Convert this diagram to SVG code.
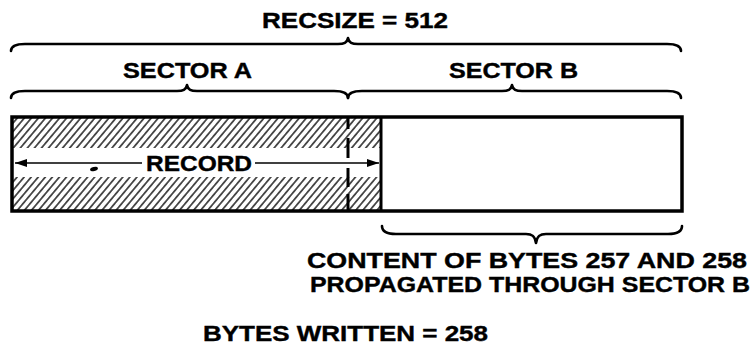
<svg xmlns="http://www.w3.org/2000/svg" width="755" height="347" viewBox="0 0 755 347">
<style>
  text { font-family: "Liberation Sans", Arial, Helvetica, sans-serif; font-weight: bold; font-size: 22px; fill: #000; stroke: #000; stroke-width: 0.4; }
  .brace { fill: none; stroke: #000; stroke-width: 2.6; stroke-linecap: round; stroke-linejoin: round; }
  .border { fill: none; stroke: #000; stroke-width: 3.5; }
  .arrow { stroke: #000; stroke-width: 1.6; fill: none; }
</style>
<defs>
  <pattern id="hatch" patternUnits="userSpaceOnUse" width="5.4" height="10" patternTransform="rotate(40)">
    <line x1="2.7" y1="-1" x2="2.7" y2="11" stroke="#000" stroke-width="1.3"/>
  </pattern>
  <marker id="ah" viewBox="0 0 12 8" refX="12" refY="4" markerWidth="12" markerHeight="8" markerUnits="userSpaceOnUse" orient="auto">
    <path d="M0,0 L12,4 L0,8 Z" fill="#000"/>
  </marker>
</defs>
<rect width="755" height="347" fill="#fff"/>

<g id="label-recsize">
  <text x="262" y="28" textLength="186" lengthAdjust="spacingAndGlyphs">RECSIZE = 512</text>
</g>

<g id="connectors">
  <path id="brace-recsize" class="brace" d="M11 51 C11 46 15 44 25 44 L338 44 C344 44 347 43 348 38 C349 43 352 44 358 44 L667 44 C677 44 681 46 681 51"/>
  <path id="brace-sector-a" class="brace" d="M11 98 C11 93 15 91 25 91 L177 91 C183 91 186 90 187 85 C188 90 191 91 197 91 L334 91 C344 91 348 93 348 98"/>
  <path id="brace-sector-b" class="brace" d="M348 98 C348 93 352 91 362 91 L502 91 C508 91 511 90 512 85 C513 90 516 91 522 91 L667 91 C677 91 681 93 681 98"/>
  <path id="brace-bytes" class="brace" d="M382 226 C382 231 386 234 396 234 L526 234 C532 234 535 236 536 243 C537 236 540 234 546 234 L668 234 C678 234 682 231 682 226"/>
</g>

<g id="label-sector-a">
  <text x="123" y="78" textLength="129" lengthAdjust="spacingAndGlyphs">SECTOR A</text>
</g>
<g id="label-sector-b">
  <text x="449" y="78" textLength="129" lengthAdjust="spacingAndGlyphs">SECTOR B</text>
</g>

<g id="record-block">
  <rect x="12" y="117" width="369" height="31" fill="url(#hatch)"/>
  <rect x="12" y="177" width="369" height="34" fill="url(#hatch)"/>
  <rect class="border" x="12" y="117" width="670" height="94"/>
  <line x1="381" y1="117" x2="381" y2="211" stroke="#000" stroke-width="3"/>
  <path d="M348 117 L348 211" stroke="#000" stroke-width="3" stroke-dasharray="12 9 20 10 19 7 18" fill="none"/>
  <line class="arrow" x1="142" y1="163" x2="15" y2="163" marker-end="url(#ah)"/>
  <line class="arrow" x1="255" y1="163" x2="379" y2="163" marker-end="url(#ah)"/>
  <ellipse cx="94" cy="169" rx="4" ry="2" transform="rotate(-15 94 169)" fill="#000"/>
  <text x="146" y="171" textLength="106" lengthAdjust="spacingAndGlyphs">RECORD</text>
</g>

<g id="label-content">
  <text x="307" y="268" textLength="440" lengthAdjust="spacingAndGlyphs">CONTENT OF BYTES 257 AND 258</text>
  <text x="310" y="292" textLength="440" lengthAdjust="spacingAndGlyphs">PROPAGATED THROUGH SECTOR B</text>
</g>

<g id="label-bytes-written">
  <text x="203" y="341" textLength="285" lengthAdjust="spacingAndGlyphs">BYTES WRITTEN = 258</text>
</g>
</svg>
